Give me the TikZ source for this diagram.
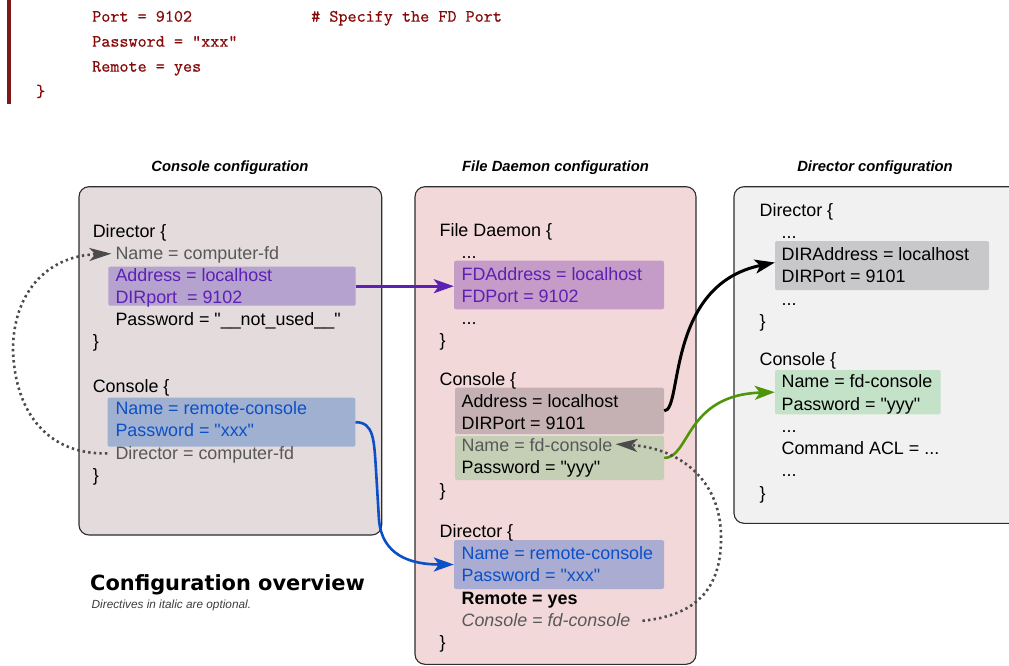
\documentclass[tikz,border=0pt]{standalone}
\usepackage{fontspec}
\setmainfont{Liberation Sans}[Ligatures=TeXOff]
\newfontfamily\dejavufam{DejaVu Sans}
\newfontfamily\codefam{lmmono10-regular.otf}[FakeBold=0.5]
\usetikzlibrary{arrows.meta}
\definecolor{codetxt}{RGB}{135,10,10}
\definecolor{codebar}{RGB}{125,25,25}
\definecolor{boxA}{RGB}{227,219,220}
\definecolor{boxB}{RGB}{242,216,217}
\definecolor{boxC}{RGB}{241,241,241}
\definecolor{boxline}{RGB}{45,45,45}
\definecolor{hlpA}{RGB}{182,162,206}
\definecolor{hlpB}{RGB}{197,155,200}
\definecolor{hlbA}{RGB}{160,176,209}
\definecolor{hlbB}{RGB}{170,172,210}
\definecolor{hlbrown}{RGB}{197,177,179}
\definecolor{hlgrB}{RGB}{197,207,182}
\definecolor{hlgrayC}{RGB}{200,200,202}
\definecolor{hlgrC}{RGB}{195,226,200}
\definecolor{ptxt}{RGB}{92,32,180}
\definecolor{btxt}{RGB}{12,80,200}
\definecolor{gtxt}{RGB}{88,88,88}
\definecolor{garrow}{RGB}{78,150,8}
\definecolor{dotgray}{RGB}{75,75,75}
\newcommand\mfs{\fontsize{17.9}{21}\selectfont}
\begin{document}
\begin{tikzpicture}[x=1pt,y=1pt,
  t/.style={anchor=base west, inner sep=0pt, font=\mfs},
  code/.style={anchor=base west, inner sep=0pt, text=codetxt, font=\fontsize{17.3}{20}\selectfont\codefam},
  ttl/.style={anchor=base, inner sep=0pt, font=\fontsize{14.8}{17}\selectfont\bfseries\itshape},
  cfgbox/.style={draw=boxline, line width=1.1pt, rounded corners=10pt},
  hl/.style={inner sep=0pt, rounded corners=2pt},
  conn/.style={line width=2.6pt, -{Stealth[length=20pt,width=14pt,inset=5pt]}},
  dotconn/.style={dotgray, line width=2.6pt, dash pattern=on 2.4pt off 3.2pt, -{Stealth[length=22pt,width=13pt,inset=6pt]}}
]
\useasboundingbox (0,0) rectangle (1009,-666);

% code excerpt
\fill[codebar] (7.3,2) rectangle (10.8,-104);
\node[code] (c1) at (92,-21.7) {Port = 9102};
\node[code] (c1b) at (311,-21.7) {\# Specify the FD Port};
\node[code] (c2) at (92,-46.7) {Password = "xxx"};
\node[code] (c3) at (92,-71.7) {Remote = yes};
\node[code] (c4) at (36,-96.7) {\}};

% titles
\node[ttl] (tA) at (230,-171.7) {Console configuration};
\node[ttl] (tB) at (555.5,-171.7) {File Daemon configuration};
\node[ttl] (tC) at (875,-171.7) {Director configuration};

% boxes
\draw[cfgbox, fill=boxA] (79,-186.7) rectangle (381.7,-535);
\draw[cfgbox, fill=boxB] (415,-186.7) rectangle (696,-664.3);
\draw[cfgbox, fill=boxC] (734,-186.7) rectangle (1040,-523.3);

% highlights
\node[hl, fill=hlpA, minimum width=247.4pt, minimum height=39pt] (pA) at (232,-286.2) {};
\node[hl, fill=hlbA, minimum width=247.8pt, minimum height=49pt] (bA) at (231.4,-422.2) {};
\node[hl, fill=hlpB, minimum width=210pt, minimum height=48.6pt] (pB) at (559,-285) {};
\node[hl, fill=hlbrown, minimum width=209pt, minimum height=46.3pt] (brB) at (559.5,-410.85) {};
\node[hl, fill=hlgrB, minimum width=209pt, minimum height=44pt] (grB) at (559.5,-458) {};
\node[hl, fill=hlbB, minimum width=210pt, minimum height=49pt] (bB) at (559,-564.5) {};
\node[hl, fill=hlgrayC, minimum width=214pt, minimum height=49pt] (gyC) at (882,-265.5) {};
\node[hl, fill=hlgrC, minimum width=165.7pt, minimum height=44.3pt] (grC) at (857.85,-392.15) {};

% console configuration text
\node[t] (a1) at (92.6,-237.7) {Director \{};
\node[t, text=gtxt] (a2) at (115.3,-259.3) {Name = computer-fd};
\node[t, text=ptxt] (a3) at (115.3,-281.3) {Address = localhost};
\node[t, text=ptxt] (a4) at (115.3,-303.4) {DIRport\ \ = 9102};
\node[t] (a5) at (115.3,-325.6) {Password = "\_\_not\_used\_\_"};
\node[t] (a6) at (92.6,-347.7) {\}};
\node[t] (a7) at (92.6,-392.7) {Console \{};
\node[t, text=btxt] (a8) at (115.3,-414.8) {Name = remote-console};
\node[t, text=btxt] (a9) at (115.3,-436.9) {Password = "xxx"};
\node[t, text=gtxt] (a10) at (115.3,-459) {Director = computer-fd};
\node[t] (a11) at (92.6,-481) {\}};

% file daemon configuration text
\node[t] (b1) at (439.4,-236) {File Daemon \{};
\node[t] (b2) at (461.4,-258) {...};
\node[t, text=ptxt] (b3) at (461.4,-280) {FDAddress = localhost};
\node[t, text=ptxt] (b4) at (461.4,-302) {FDPort = 9102};
\node[t] (b5) at (461.4,-324) {...};
\node[t] (b6) at (439.4,-346.5) {\}};
\node[t] (b7) at (439.4,-385) {Console \{};
\node[t] (b8) at (461.4,-407) {Address = localhost};
\node[t] (b9) at (461.4,-429.2) {DIRPort = 9101};
\node[t, text=gtxt] (b10) at (461.4,-451.5) {Name = fd-console};
\node[t] (b11) at (461.4,-473.5) {Password = "yyy"};
\node[t] (b12) at (439.4,-496) {\}};
\node[t] (b13) at (439.4,-537) {Director \{};
\node[t, text=btxt] (b14) at (461.4,-559.2) {Name = remote-console};
\node[t, text=btxt] (b15) at (461.4,-581.5) {Password = "xxx"};
\node[t, font=\mfs\bfseries] (b16) at (461.4,-604) {Remote = yes};
\node[t, text=gtxt, font=\mfs\itshape] (b17) at (461.4,-626.2) {Console = fd-console};
\node[t] (b18) at (439.4,-648.5) {\}};

% director configuration text
\node[t] (d1) at (759.4,-216) {Director \{};
\node[t] (d2) at (781.4,-238) {...};
\node[t] (d3) at (781.4,-260) {DIRAddress = localhost};
\node[t] (d4) at (781.4,-282.3) {DIRPort = 9101};
\node[t] (d5) at (781.4,-305) {...};
\node[t] (d6) at (759.4,-327.5) {\}};
\node[t] (d7) at (759.4,-365) {Console \{};
\node[t] (d8) at (781.4,-387.3) {Name = fd-console};
\node[t] (d9) at (781.4,-410) {Password = "yyy"};
\node[t] (d10) at (781.4,-432.3) {...};
\node[t] (d11) at (781.4,-454.3) {Command ACL = ...};
\node[t] (d12) at (781.4,-476.7) {...};
\node[t] (d13) at (759.4,-499) {\}};

% caption
\node[anchor=base west, inner sep=0pt, font=\fontsize{20.9}{24}\selectfont\dejavufam\bfseries] (cap) at (90,-590) {Configuration overview};
\node[anchor=base west, inner sep=0pt, text={rgb,255:red,60;green,60;blue,60}, font=\fontsize{11.8}{14}\selectfont\itshape] (capsub) at (91.5,-608.3) {Directives in italic are optional.};

% connectors
\draw[conn, ptxt] (pA.east) -- (pA.east -| pB.west);
\draw[conn, btxt] (bA.east) .. controls (374,-422.2) and (374,-440) .. (376,-470)
   -- (379,-520) .. controls (382,-555) and (410,-564.5) .. (bB.west);
\draw[conn, black, line width=3pt] (brB.east) .. controls (683,-410.85) and (665,-285) .. ([yshift=3pt]gyC.west);
\draw[conn, garrow] (grB.east) .. controls (690,-458) and (685,-395) .. (grC.west);

\coordinate (lstart) at ([xshift=-8pt,yshift=1pt]a10.west);
\coordinate (lend) at ([xshift=-4pt,yshift=1pt]a2.west);
\draw[dotconn] (lstart) .. controls (50,-455) and (15,-415) .. (13,-350)
   .. controls (13,-295) and (45,-256) .. (lend);
\coordinate (rstart) at ([xshift=12pt,yshift=-1pt]b17.east);
\coordinate (rend) at ([xshift=3pt,yshift=1pt]b10.east);
\draw[dotconn] (rstart) .. controls (700,-615) and (722,-585) .. (721,-535)
   .. controls (720,-480) and (680,-448) .. (rend);
\end{tikzpicture}
\end{document}
